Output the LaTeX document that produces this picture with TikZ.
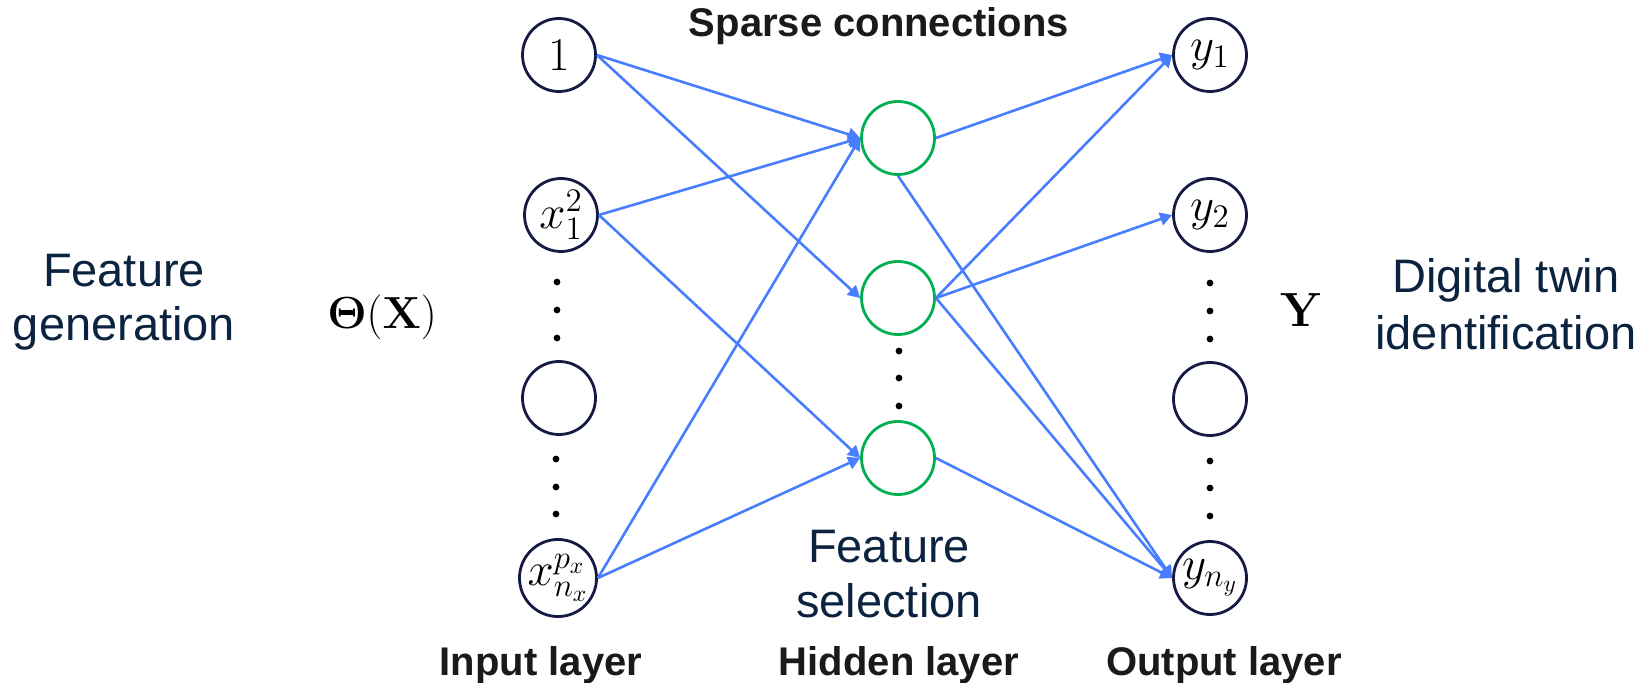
\documentclass[tikz,border=0pt]{standalone}
\usepackage{fix-cm}
\usepackage[no-math]{fontspec}
\newfontfamily\labelfont{Liberation Sans}
\usetikzlibrary{arrows.meta}

\definecolor{unitnavy}{HTML}{141A44}
\definecolor{unitgreen}{HTML}{00B050}
\definecolor{linkblue}{RGB}{72,125,255}
\definecolor{captionnavy}{HTML}{0C2340}
\definecolor{headgray}{HTML}{1A1A1A}

\tikzset{
  unit/.style={circle, draw=unitnavy, line width=1.4pt, minimum size=36.5pt,
    inner sep=0pt, font=\fontsize{23.5pt}{28pt}\selectfont},
  hidunit/.style={circle, draw=unitgreen, line width=1.4pt, minimum size=36.5pt,
    inner sep=0pt},
  link/.style={draw=linkblue, line width=1.3pt, -{Triangle[length=6pt,width=6.5pt]}},
  vdot/.style={circle, fill=black, inner sep=0pt, minimum size=3.4pt},
  caption/.style={anchor=base, inner sep=0pt, text=captionnavy,
    font=\labelfont\fontsize{23.5pt}{27.5pt}\selectfont},
  layertitle/.style={anchor=base, inner sep=0pt, text=headgray,
    font=\labelfont\bfseries\fontsize{20pt}{24pt}\selectfont},
  mathlabel/.style={anchor=base, inner sep=0pt}
}

\begin{document}
\begin{tikzpicture}[x=0.5pt, y=-0.5pt]
  \useasboundingbox (0,0) rectangle (1647,683);

  % input layer
  \node[unit] (in1) at (559,55)  {$1$};
  \node[unit] (in2) at (561,215) {$x_1^2$};
  \node[unit] (in3) at (559,398) {};
  \node[unit] (inN) at (558,578) {$x_{n_x}^{p_x}$};
  \node[vdot] (ia) at (557,282) {};
  \node[vdot] (ib) at (557,310) {};
  \node[vdot] (ic) at (557,338) {};
  \node[vdot] (id) at (556,459) {};
  \node[vdot] (ie) at (556,487) {};
  \node[vdot] (if) at (556,514) {};

  % hidden layer
  \node[hidunit] (h1) at (898,138) {};
  \node[hidunit] (h2) at (898,298) {};
  \node[hidunit] (h3) at (898,458) {};
  \node[vdot] (ha) at (899,351) {};
  \node[vdot] (hb) at (899,378) {};
  \node[vdot] (hc) at (899,406) {};

  % output layer
  \node[unit] (out1) at (1210,55)  {$y_1$};
  \node[unit] (out2) at (1210,215) {$y_2$};
  \node[unit] (out3) at (1210,399) {};
  \node[unit] (outN) at (1210,578) {$y_{n_y}$};
  \node[vdot] (oa) at (1210,283) {};
  \node[vdot] (ob) at (1210,311) {};
  \node[vdot] (oc) at (1210,339) {};
  \node[vdot] (od) at (1210,461) {};
  \node[vdot] (oe) at (1210,488) {};
  \node[vdot] (of) at (1210,516) {};

  % sparse connections
  \draw[link] (in1.east) -- (h1.west);
  \draw[link] (in1.east) -- (h2.west);
  \draw[link] (in2.east) -- (h1.west);
  \draw[link] (in2.east) -- (h3.west);
  \draw[link] (inN.east) -- (h1.west);
  \draw[link] (inN.east) -- (h3.west);
  \draw[link] (h1.east) -- (out1.west);
  \draw[link] (h1.south) -- (outN.west);
  \draw[link] (h2.east) -- (out1.west);
  \draw[link] (h2.east) -- (out2.west);
  \draw[link] (h2.east) -- (outN.west);
  \draw[link] (h3.east) -- (outN.west);

  % math symbols beside the layers
  \node[mathlabel, font=\fontsize{22.5pt}{27pt}\selectfont] (theta) at (382,329) {$\mathbf{\Theta}(\mathbf{X})$};
  \node[mathlabel, font=\fontsize{24pt}{29pt}\selectfont] (ylab) at (1302,327) {$\mathbf{Y}$};

  % captions
  \node[caption] (fg1) at (124,287) {Feature};
  \node[caption] (fg2) at (124,341) {generation};
  \node[caption] (fs1) at (889,562) {Feature};
  \node[caption] (fs2) at (889,617) {selection};
  \node[caption] (dt1) at (1506,293) {Digital twin};
  \node[caption] (dt2) at (1506,350) {identification};

  % layer titles
  \node[layertitle] (sparse) at (879,37) {Sparse connections};
  \node[layertitle] (inlayer) at (541,675) {Input layer};
  \node[layertitle] (hidlayer) at (899,675) {Hidden layer};
  \node[layertitle] (outlayer) at (1224,675) {Output layer};
\end{tikzpicture}
\end{document}
